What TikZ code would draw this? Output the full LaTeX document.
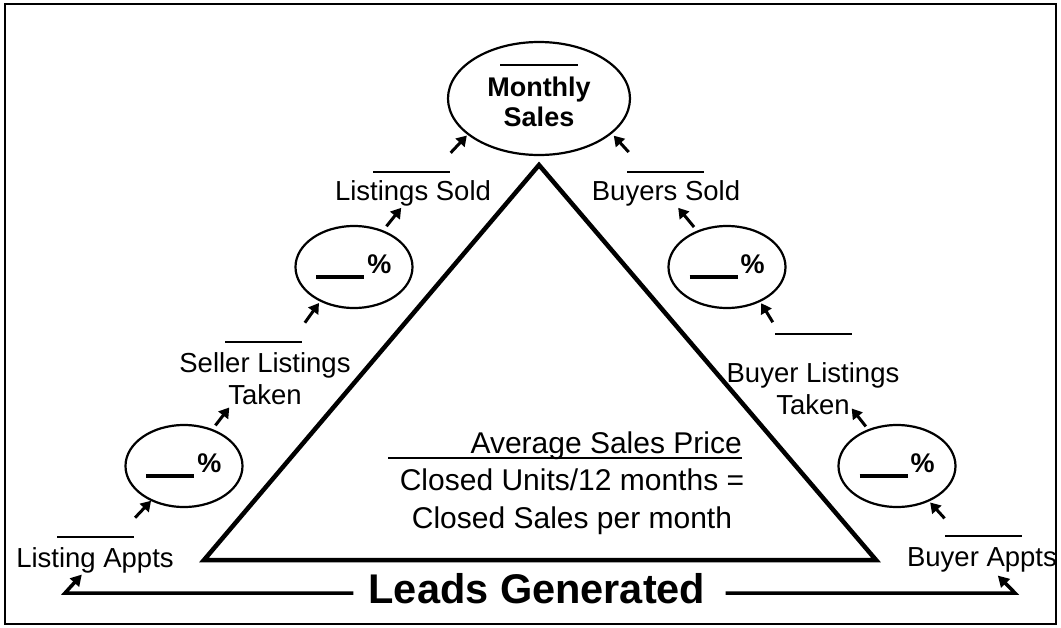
\documentclass[tikz,border=0pt]{standalone}
\usepackage{fontspec}
\setmainfont{Liberation Sans}
\usetikzlibrary{arrows.meta, calc, shapes.geometric}

\begin{document}
\begin{tikzpicture}[x=1pt, y=-1pt,
    lbl/.style={inner sep=0pt, anchor=north, align=center, font=\fontsize{27.5}{32}\selectfont},
    pct/.style={ellipse, draw, line width=2.2pt, inner sep=0pt, minimum width=117pt, minimum height=82pt, font=\bfseries\fontsize{27}{30}\selectfont},
    arr/.style={line width=3pt, -{Triangle[length=10pt, width=12pt]}},
    blank/.style={line width=1.4pt},
    lead/.style={line width=3.5pt, -{Triangle[length=11pt, width=12pt]}}]

  \useasboundingbox (0,0) rectangle (1061,627);
  \draw[line width=1.2pt] (5,4) rectangle (1056,624);

  % the big triangle
  \draw[line width=4.5pt] (204,560) -- (539,165) -- (876,560) -- cycle;

  \node[ellipse, draw, line width=2.2pt, inner sep=0pt, minimum width=182pt, minimum height=113pt, align=center, font=\bfseries\fontsize{27}{30}\selectfont] (monthly) at (539,98.5) {\rule{0pt}{27pt}Monthly\\Sales};

  % seller side
  \node[lbl] (lappts) at (95,547) {Listing Appts};
  \node[pct] (pL1) at (184,466) {\rule[-6pt]{48pt}{4pt}\hspace{3pt}\%};
  \node[lbl] (slt) at (265,352) {Seller Listings\\Taken};
  \node[pct] (pL2) at (354,267) {\rule[-6pt]{48pt}{4pt}\hspace{3pt}\%};
  \node[lbl] (lsold) at (413,180) {Listings Sold};

  % buyer side
  \node[lbl] (bappts) at (982,547) {Buyer Appts};
  \node[pct] (pR1) at (897,466) {\rule[-6pt]{48pt}{4pt}\hspace{3pt}\%};
  \node[lbl] (blt) at (813,362) {Buyer Listings\\Taken};
  \node[pct] (pR2) at (727,267) {\rule[-6pt]{48pt}{4pt}\hspace{3pt}\%};
  \node[lbl] (bsold) at (666,180) {Buyers Sold};

  % middle
  \node[inner sep=0pt, anchor=base east, font=\fontsize{30}{38}\selectfont] (avg) at (742,453) {Average Sales Price};
  \node[inner sep=0pt, anchor=north, align=center, font=\fontsize{30}{38}\selectfont] (closed) at (572,469) {Closed Units/12 months =\\Closed Sales per month};
  \node[inner sep=0pt, anchor=base, font=\bfseries\fontsize{41.5}{48}\selectfont] (leads) at (537,603) {Leads Generated};

  % blanks to fill in
  \draw[blank] ([yshift=-24pt]monthly.north) ++(-39,0) -- ++(78,0);
  \draw[blank] ([yshift=8pt]lsold.north) ++(-40,0) -- ++(77,0);
  \draw[blank] ([yshift=10pt]slt.north) ++(-40,0) -- ++(77,0);
  \draw[blank] ([yshift=10pt]lappts.north) ++(-38,0) -- ++(77,0);
  \draw[blank] ([yshift=8pt]bsold.north) ++(-39,0) -- ++(77,0);
  \draw[blank] ([yshift=28pt]blt.north) ++(-38,0) -- ++(77,0);
  \draw[blank] ([yshift=11pt]bappts.north) ++(-37,0) -- ++(77,0);
  \draw[blank] ([yshift=-5pt]avg.base east) -- ++(-354,0);

  % arrows up the seller side
  \draw[arr] ($(lappts)!0.45!(pL1)$) -- ($(lappts)!0.63!(pL1)$);
  \draw[arr] ($(pL1)!0.43!5:(slt)$) -- ($(pL1)!0.62!5:(slt)$);
  \draw[arr] ($(slt)!0.48!3:(pL2)$) -- ($(slt)!0.65!3:(pL2)$);
  \draw[arr] ($(pL2)!0.55!(lsold)$) -- ($(pL2)!0.8!(lsold)$);
  \draw[arr] ($(lsold)!0.35!10:(monthly)$) -- ($(lsold)!0.5!10:(monthly)$);

  % arrows up the buyer side
  \draw[arr] ($(bappts)!0.44!(pR1)$) -- ($(bappts)!0.61!(pR1)$);
  \draw[arr] ($(pR1)!0.44!-9:(blt)$) -- ($(pR1)!0.64!-9:(blt)$);
  \draw[arr] ($(blt)!0.52!-4:(pR2)$) -- ($(blt)!0.67!-4:(pR2)$);
  \draw[arr] ($(pR2)!0.54!(bsold)$) -- ($(pR2)!0.8!(bsold)$);
  \draw[arr] ($(bsold)!0.35!-11:(monthly)$) -- ($(bsold)!0.49!-11:(monthly)$);

  % leads feed both sides
  \coordinate (lcorner) at (65,593);
  \coordinate (rcorner) at (1015,593);
  \draw[lead, shorten <=15pt] (leads.west |- lcorner) -- (lcorner) -- ($(lcorner)!0.56!(lappts)$);
  \draw[lead, shorten <=20pt] (leads.east |- rcorner) -- (rcorner) -- ($(rcorner)!0.52!(bappts)$);
\end{tikzpicture}
\end{document}
